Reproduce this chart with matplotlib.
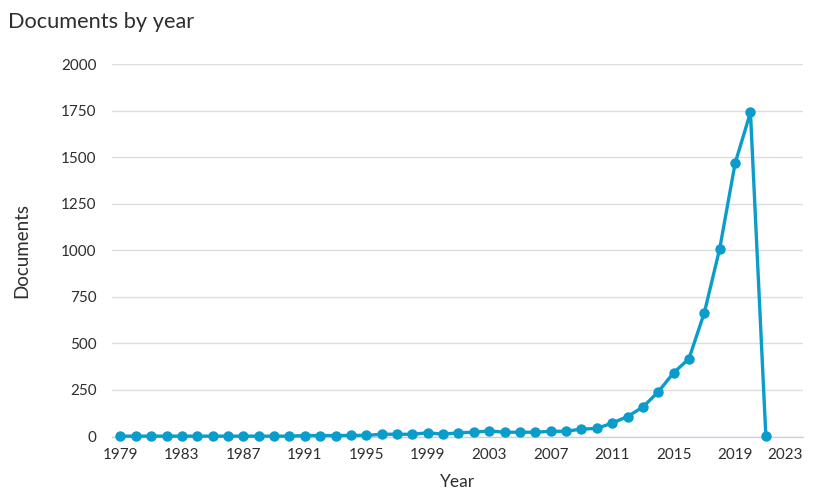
import matplotlib
matplotlib.use("Agg")
import matplotlib.pyplot as plt
from matplotlib.ticker import FixedLocator
from matplotlib.transforms import ScaledTranslation

years = list(range(1979, 2022))
documents = [2, 2, 2, 2, 2, 2, 2, 2, 2, 2, 2, 2, 5, 5, 5, 6, 6, 12, 12, 12,
             20, 12, 20, 23, 30, 23, 23, 23, 28, 28, 40, 43, 72, 107, 158, 240,
             342, 418, 665, 1009, 1466, 1740, 5]
xticks = list(range(1979, 2024, 4))
yticks = list(range(0, 2001, 250))

plt.rcParams['font.family'] = ['Lato', 'DejaVu Sans']
color = '#0a9cca'
text_color = '#2e2e2e'

fig = plt.figure(figsize=(8.2, 4.99), dpi=100)
ax = fig.add_axes([112/820, 1 - 436.5/499, (803-112)/820, (436.5-64)/499])

ax.plot(years, documents, color=color, lw=2.4, marker='o', ms=7.5,
        markeredgewidth=0, zorder=3, clip_on=False)

ax.set_xlim(1978.45, 2023.42)
ax.set_ylim(0, 2000)
ax.xaxis.set_major_locator(FixedLocator(xticks))
ax.set_xticklabels([str(t) for t in xticks])
ax.yaxis.set_major_locator(FixedLocator(yticks))
ax.set_yticklabels([str(t) for t in yticks])

ax.grid(axis='y', color='#dcdde2', lw=1)
ax.set_axisbelow(True)
for s in ['top', 'right', 'left']:
    ax.spines[s].set_visible(False)
ax.spines['bottom'].set_color('#c5d3e8')
ax.spines['bottom'].set_linewidth(1)

ax.tick_params(axis='both', length=0, labelsize=11, colors=text_color)
ax.tick_params(axis='y', pad=11)
ax.tick_params(axis='x', pad=8)

# last x tick label is kept inside the plot area (right-aligned)
last = ax.get_xticklabels()[-1]
last.set_ha('right')
last.set_transform(last.get_transform() + ScaledTranslation(6/100, 0, fig.dpi_scale_trans))

ax.set_xlabel('Year', fontsize=12.5, color=text_color, labelpad=9)
ax.set_ylabel('Documents', fontsize=13.5, color=text_color, labelpad=22)

fig.text(8/820, 1 - 22/499, 'Documents by year', fontsize=15.7, color=text_color,
         va='center', ha='left')

fig.savefig('out.png', dpi=100)
